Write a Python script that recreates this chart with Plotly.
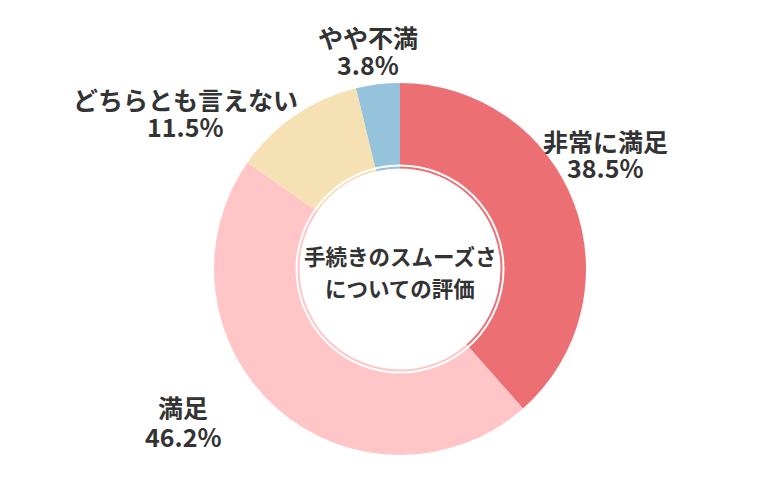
import plotly.graph_objects as go

WIDTH = 780
HEIGHT = 500
# the page body adds an 8px offset, so the figure is laid out 8px up/left
OFFSET = 8
MARGIN_L = 32
MARGIN_R = 28
MARGIN_T = 75
MARGIN_B = 53

FONT_FAMILY = "Noto Sans CJK JP"
TEXT_COLOR = "#333333"
LABEL_SIZE = 25
LABEL_BOX = 26
CENTER_SIZE = 21.5
CENTER_BOX = 30

labels = ["非常に満足", "満足", "どちらとも言えない", "やや不満"]
values = [38.5, 46.2, 11.5, 3.8]
colors = ["#EC7073", "#FFC5C7", "#F5E1B4", "#95C3DB"]
center_title = ["手続きのスムーズさ", "についての評価"]

# label text centres in screen pixels: (x, name line y, percent line y)
LABEL_POS = [(605, 141, 167), (183, 407, 436), (185, 99, 126), (368, 37, 64)]
CENTER_X = 400
CENTER_LINES_Y = [255, 287]


def to_paper(px, py):
    w = WIDTH - MARGIN_L - MARGIN_R
    h = HEIGHT - MARGIN_T - MARGIN_B
    px -= OFFSET
    py -= OFFSET
    return (px - MARGIN_L) / w, (HEIGHT - MARGIN_B - py) / h


def add_text(fig, text, px, py, size, box):
    ax, ay = to_paper(px, py)
    fig.add_annotation(
        x=ax,
        y=ay,
        xref="paper",
        yref="paper",
        text="<b>{0}</b>".format(text),
        showarrow=False,
        xanchor="center",
        yanchor="middle",
        height=box,
        borderpad=0,
        font=dict(family=FONT_FAMILY, size=size, color=TEXT_COLOR),
    )


fig = go.Figure(
    go.Pie(
        labels=labels,
        values=values,
        marker=dict(colors=colors, line=dict(width=0)),
        hole=100.5 / 186,
        sort=False,
        direction="clockwise",
        rotation=0,
        textinfo="none",
        showlegend=False,
    )
)

# thin white ring just outside the hole
w = WIDTH - MARGIN_L - MARGIN_R
h = HEIGHT - MARGIN_T - MARGIN_B
rx = 103.5 / w
ry = 103.5 / h
fig.add_shape(
    type="circle",
    xref="paper",
    yref="paper",
    x0=0.5 - rx,
    x1=0.5 + rx,
    y0=0.5 - ry,
    y1=0.5 + ry,
    line=dict(color="white", width=2),
    fillcolor="rgba(0,0,0,0)",
    layer="above",
)

total = sum(values)
for name, value, (x, y1, y2) in zip(labels, values, LABEL_POS):
    add_text(fig, name, x, y1, LABEL_SIZE, LABEL_BOX)
    add_text(fig, "{0:.1f}%".format(value / total * 100), x, y2, LABEL_SIZE, LABEL_BOX)

for text, y in zip(center_title, CENTER_LINES_Y):
    add_text(fig, text, CENTER_X, y, CENTER_SIZE, CENTER_BOX)

fig.update_layout(
    width=WIDTH,
    height=HEIGHT,
    margin=dict(l=MARGIN_L, r=MARGIN_R, t=MARGIN_T, b=MARGIN_B),
    paper_bgcolor="white",
    plot_bgcolor="white",
    font=dict(family=FONT_FAMILY, color=TEXT_COLOR),
)

fig.write_html("out.html")
